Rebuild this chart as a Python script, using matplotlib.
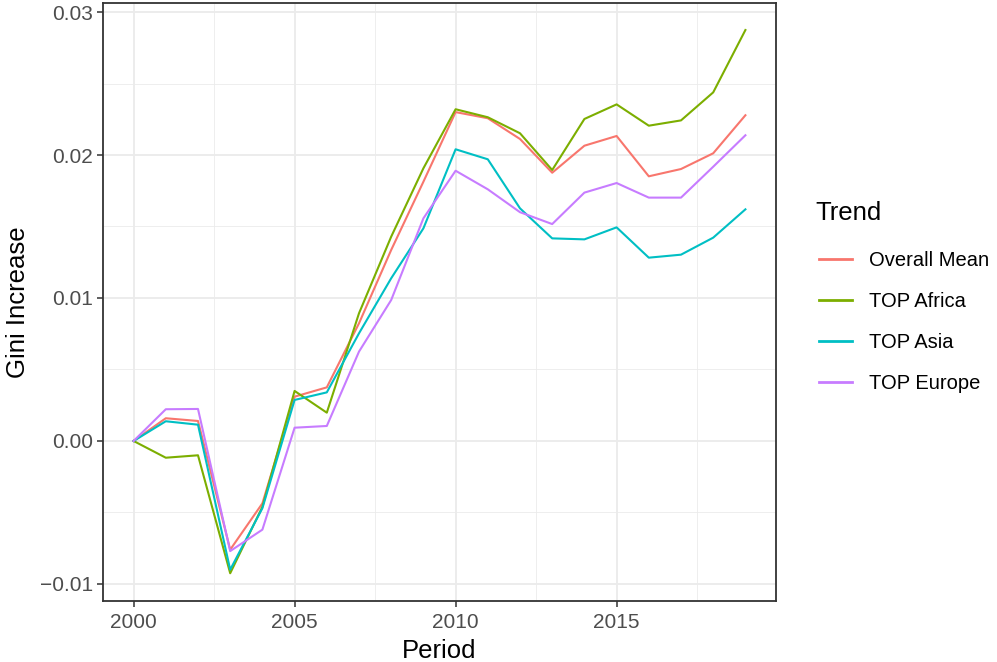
import matplotlib
matplotlib.use("Agg")
import matplotlib.pyplot as plt
from matplotlib.ticker import FixedLocator

plt.rcParams['font.family'] = ['Liberation Sans', 'DejaVu Sans']

years = list(range(2000, 2020))

overall_mean = [0.0, 0.00159, 0.0014, -0.0076, -0.00436, 0.0031, 0.00375, 0.00823, 0.01336, 0.01813,
                0.0230, 0.02257, 0.02112, 0.01876, 0.02065, 0.02133, 0.01851, 0.01902, 0.02012, 0.02278]
top_africa = [0.0, -0.00117, -0.001, -0.00925, -0.0046, 0.0035, 0.00198, 0.00893, 0.01429, 0.01907,
              0.0232, 0.02264, 0.02152, 0.01895, 0.02252, 0.02354, 0.02205, 0.02242, 0.02438, 0.02874]
top_asia = [0.0, 0.00138, 0.00114, -0.0090, -0.0047, 0.00287, 0.0034, 0.00753, 0.01138, 0.01487,
            0.0204, 0.0197, 0.01627, 0.01417, 0.0141, 0.01494, 0.01282, 0.01303, 0.01422, 0.0162]
top_europe = [0.0, 0.00222, 0.00224, -0.0077, -0.0062, 0.00093, 0.00105, 0.00625, 0.00986, 0.01557,
              0.0189, 0.0176, 0.016, 0.01517, 0.01737, 0.01804, 0.01702, 0.01702, 0.01918, 0.02138]

series_names = ["Overall Mean", "TOP Africa", "TOP Asia", "TOP Europe"]
series_vals = [overall_mean, top_africa, top_asia, top_europe]
colors = ["#F8766D", "#7CAE00", "#00BFC4", "#C77CFF"]

x_ticks = [2000, 2005, 2010, 2015]
y_ticks = [-0.01, 0.0, 0.01, 0.02, 0.03]
y_labels = ["\u22120.01", "0.00", "0.01", "0.02", "0.03"]

fig = plt.figure(figsize=(9.97, 6.62), dpi=100)
ax = fig.add_axes([103 / 997, 61 / 662, 673 / 997, 598 / 662])

# ggplot-like grid
for xv in [2002.5, 2007.5, 2012.5, 2017.5]:
    ax.axvline(xv, color="#EBEBEB", lw=0.6, zorder=0)
for yv in [-0.005, 0.005, 0.015, 0.025]:
    ax.axhline(yv, color="#EBEBEB", lw=0.6, zorder=0)
for xv in x_ticks:
    ax.axvline(xv, color="#EBEBEB", lw=1.3, zorder=0)
for yv in y_ticks:
    ax.axhline(yv, color="#EBEBEB", lw=1.3, zorder=0)

for name, vals, c in zip(series_names, series_vals, colors):
    ax.plot(years, vals, color=c, lw=1.5, label=name, zorder=2)

ax.set_xlim(1999.05, 2019.95)
ax.set_ylim(-0.01119, 0.03063)
ax.xaxis.set_major_locator(FixedLocator(x_ticks))
ax.set_yticks(y_ticks)
ax.set_yticklabels(y_labels)
ax.tick_params(axis="both", colors="#333333", labelcolor="#4D4D4D", labelsize=15,
               length=4.5, width=1.1, pad=2.5)
ax.tick_params(axis="x", pad=4)
for s in ax.spines.values():
    s.set_color("#333333")
    s.set_linewidth(1.3)

ax.set_xlabel("Period", fontsize=18.5, color="black", labelpad=5)
ax.set_ylabel("Gini Increase", fontsize=18.5, color="black", labelpad=7)

# legend: title drawn separately so the gap matches ggplot's guide
fig.text(815 / 997, 1 - 213 / 662, "Trend", fontsize=18.5, ha="left", va="center")
leg = fig.legend(loc="center left", bbox_to_anchor=(819 / 997, 1 - 322 / 662), frameon=False,
                 fontsize=14.5, handlelength=1.65, handletextpad=0.85, labelspacing=1.1,
                 borderpad=0, borderaxespad=0)
for h in leg.get_lines():
    h.set_linewidth(2)

fig.savefig("out.png", dpi=100)
